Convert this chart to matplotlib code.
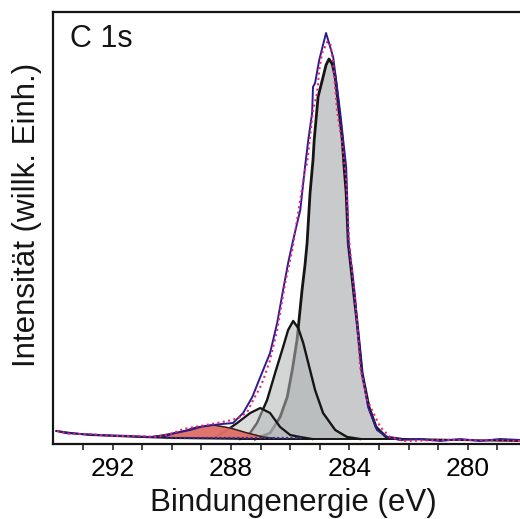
"""
XPS C 1s spectrum with peak fit components (Bindungenergie vs. Intensität).
Values read off the reference picture; intensity in arbitrary units.
"""
import matplotlib
matplotlib.use("Agg")
import matplotlib.pyplot as plt

plt.rcParams["font.family"] = ["Liberation Sans", "DejaVu Sans"]

# background (Shirley-like) line
bg_e = [293.9, 293.4, 292.75, 291.05, 289.95, 287.35, 282.2, 278.24]
bg_i = [13, 11, 9, 7, 6, 5, 5, 3]

# fit envelope (blue)
env_e = [293.87, 293.6, 293.09, 292.41, 291.40, 290.73, 290.22, 289.88, 289.38, 289.04,
         288.60, 288.30, 287.93, 287.59, 287.28, 287.01, 286.68, 286.44, 286.24, 286.07,
         285.90, 285.66, 285.50, 285.39, 285.26, 285.23, 285.16, 285.02, 284.79, 284.55,
         284.42, 284.31, 284.21, 284.11, 284.08, 284.04, 283.91, 283.81, 283.74, 283.57,
         283.37, 283.07, 282.73, 282.29, 281.61, 280.94, 280.26, 279.59, 278.91, 278.24]
env_i = [13, 11, 10, 9, 8, 7, 8, 11, 14, 17,
         19, 20, 21, 31, 47, 67, 91, 121, 154, 181,
         204, 234, 277, 304, 331, 357, 361, 384, 411, 387,
         357, 331, 304, 277, 251, 201, 174, 147, 121, 71,
         37, 14, 7, 4, 5, 3, 5, 3, 5, 4]

# measured data (magenta dotted)
dat_e = [293.87, 293.43, 292.75, 292.08, 291.06, 290.49, 289.95, 289.61, 289.04, 288.47,
         287.96, 287.69, 287.45, 287.25, 287.01, 286.91, 286.68, 286.44, 286.17, 285.93,
         285.77, 285.50, 285.43, 285.33, 285.23, 285.09, 285.02, 284.92, 284.75, 284.65,
         284.55, 284.42, 284.25, 284.11, 284.01, 283.88, 283.74, 283.64, 283.40, 282.96,
         282.63, 282.12, 280.94, 279.59, 278.24]
dat_i = [13, 10, 10, 8, 8, 7, 11, 15, 18, 21,
         24, 27, 32, 44, 57, 64, 84, 114, 161, 194,
         224, 274, 281, 307, 334, 351, 374, 391, 402, 401,
         381, 334, 301, 264, 204, 164, 124, 77, 44, 17,
         7, 3, 4, 4, 3]

# fit components
c1_e = [287.18, 286.68, 286.34, 286.10, 285.93, 285.77, 285.60, 285.50, 285.43, 285.33,
        285.23, 285.19, 285.12, 285.06, 284.89, 284.79, 284.69, 284.58, 284.48, 284.38,
        284.25, 284.18, 284.11, 284.04, 283.94, 283.84, 283.74, 283.57, 283.34, 283.10,
        282.76, 282.29]
c1_i = [5, 11, 27, 47, 74, 104, 154, 179, 201, 251,
        284, 304, 327, 347, 367, 379, 385, 380, 367, 341,
        307, 277, 251, 201, 174, 147, 121, 71, 37, 17,
        7, 5]

c2_e = [287.69, 287.45, 287.12, 286.78, 286.51, 286.24, 286.07, 285.90, 285.73, 285.56,
        285.39, 285.16, 284.89, 284.48, 284.08, 283.64]
c2_i = [5, 7, 21, 44, 71, 97, 114, 123, 116, 101,
        81, 54, 31, 14, 7, 5]

c3_e = [288.53, 288.13, 287.79, 287.35, 287.01, 286.68, 286.34, 286.00, 285.66, 285.26]
c3_i = [7, 14, 21, 31, 36, 31, 17, 9, 7, 5]

c4_e = [290.73, 290.29, 289.71, 289.14, 288.60, 288.03, 287.45, 286.91, 286.34]
c4_i = [7, 9, 12, 17, 19, 16, 11, 7, 5]

# dotted data markers along the baseline
base_e = [290.2, 285.6]
base_i = [6, 6]

xticks = [292, 288, 284, 280]

fig = plt.figure(figsize=(5.2, 5.19), dpi=100)
ax = fig.add_axes([0.1025, 0.1445, 0.8975, 0.8324])

ax.fill(c1_e, c1_i, color="#c8cacc", zorder=2)
ax.plot(c1_e, c1_i, color="#151515", lw=2.0, zorder=2.1)
ax.fill(c2_e, c2_i, color="#b1b6b4", alpha=0.56, zorder=3)
ax.plot(c2_e, c2_i, color="#151515", lw=1.7, zorder=3.1)
ax.fill(c3_e, c3_i, color="#b8bcbd", alpha=0.5, zorder=4)
ax.plot(c3_e, c3_i, color="#151515", lw=1.6, zorder=4.1)
ax.fill(c4_e, c4_i, color="#e06e66", alpha=0.95, zorder=5)
ax.plot(c4_e, c4_i, color="#2a1a1a", lw=1.0, zorder=5.1)

ax.plot(bg_e, bg_i, color="#151515", lw=1.4, zorder=6)
ax.plot(base_e, base_i, color="#3a2a90", lw=1.6, ls=(0, (1, 1)), zorder=6.1)
ax.plot(env_e, env_i, color="#2b1d8c", lw=1.4, zorder=7)
ax.plot(dat_e, dat_i, color="#e8247a", lw=1.5, ls=(0, (1, 1.6)), zorder=8)

ax.set_xlim(294, 278.24)
ax.set_ylim(0, 432)
ax.set_xticks(xticks)
ax.set_xticks(range(279, 294), minor=True)
ax.set_yticks([])
ax.tick_params(axis="x", which="both", direction="out", length=4.5, width=1.1,
               labelsize=19, pad=5, color="#151515")
for side in ("left", "top", "bottom"):
    ax.spines[side].set_linewidth(1.6)
    ax.spines[side].set_color("#151515")
ax.spines["right"].set_visible(False)

ax.text(0.036, 0.919, "C 1s", transform=ax.transAxes, fontsize=22,
        ha="left", va="baseline", color="#151515")
fig.text(0.565, 0.0154, "Bindungenergie (eV)", fontsize=22.5, ha="center",
         va="baseline", color="#151515")
fig.text(0.052, 0.586, "Intensität (willk. Einh.)", fontsize=22.5, rotation=90,
         ha="center", va="center", color="#151515")

fig.savefig("out.png", dpi=100)
